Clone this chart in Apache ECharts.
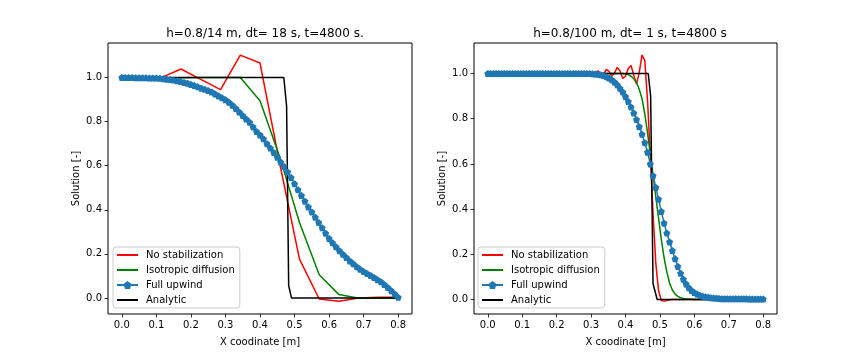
<!DOCTYPE html>
<html>
<head>
<meta charset="utf-8">
<script src="https://cdn.jsdelivr.net/npm/echarts@6/dist/echarts.min.js"></script>
<style>html,body{margin:0;padding:0;background:#fff;}#c{width:864px;height:360px;}</style>
</head>
<body>
<div id="c"></div>
<script>
// ---------- tick labels ----------
const xTicks = [0.0, 0.1, 0.2, 0.3, 0.4, 0.5, 0.6, 0.7, 0.8];
const yTicks = [0.0, 0.2, 0.4, 0.6, 0.8, 1.0];
const seriesNames = ['No stabilization', 'Isotropic diffusion', 'Full upwind', 'Analytic'];
const titleLeft = 'h=0.8/14 m, dt= 18 s, t=4800 s.';
const titleRight = 'h=0.8/100 m, dt= 1 s, t=4800 s';

// ---------- left panel (h = 0.8/14) ----------
const xLeftNodes = [0, 0.0571, 0.1143, 0.1714, 0.2286, 0.2857, 0.3429, 0.4, 0.4571, 0.5143, 0.5714, 0.6286, 0.6857, 0.7429, 0.8];
const leftNoStab = [1.0, 1.0, 1.0, 1.039, 0.992, 0.945, 1.102, 1.066, 0.61, 0.176, -0.005, -0.015, 0.0, 0.003, 0.003];
const leftIso = [0.999, 0.999, 0.999, 0.999, 1.0, 1.0, 1.0, 0.895, 0.64, 0.342, 0.105, 0.015, -0.002, -0.001, 0.0];
const xLeftFine = [0.00,0.01,0.02,0.03,0.04,0.05,0.06,0.07,0.08,0.09,0.10,0.11,0.12,0.13,0.14,0.15,0.16,0.17,0.18,0.19,0.20,0.21,0.22,0.23,0.24,0.25,0.26,0.27,0.28,0.29,0.30,0.31,0.32,0.33,0.34,0.35,0.36,0.37,0.38,0.39,0.40,0.41,0.42,0.43,0.44,0.45,0.46,0.47,0.48,0.49,0.50,0.51,0.52,0.53,0.54,0.55,0.56,0.57,0.58,0.59,0.60,0.61,0.62,0.63,0.64,0.65,0.66,0.67,0.68,0.69,0.70,0.71,0.72,0.73,0.74,0.75,0.76,0.77,0.78,0.79,0.80];
const leftUpwind = [1.000,1.000,1.000,1.000,0.999,0.999,0.999,0.999,0.998,0.998,0.998,0.997,0.995,0.993,0.991,0.989,0.986,0.982,0.978,0.974,0.969,0.964,0.958,0.952,0.947,0.941,0.935,0.926,0.917,0.908,0.899,0.888,0.875,0.860,0.844,0.828,0.812,0.797,0.776,0.755,0.740,0.722,0.700,0.680,0.660,0.638,0.617,0.596,0.572,0.546,0.518,0.491,0.465,0.439,0.413,0.390,0.366,0.342,0.318,0.293,0.270,0.250,0.232,0.214,0.198,0.183,0.168,0.155,0.142,0.130,0.120,0.111,0.102,0.093,0.083,0.073,0.061,0.047,0.033,0.018,0.003];
const xLeftExact = [0, 0.469, 0.477, 0.483, 0.491, 0.8];
const leftExact = [1.0, 1.0, 0.87, 0.056, 0.0, 0.0];

// ---------- right panel (h = 0.8/100) ----------
const xRightNodes = [0.000,0.008,0.016,0.024,0.032,0.040,0.048,0.056,0.064,0.072,0.080,0.088,0.096,0.104,0.112,0.120,0.128,0.136,0.144,0.152,0.160,0.168,0.176,0.184,0.192,0.200,0.208,0.216,0.224,0.232,0.240,0.248,0.256,0.264,0.272,0.280,0.288,0.296,0.304,0.312,0.320,0.328,0.336,0.344,0.352,0.360,0.368,0.376,0.384,0.392,0.400,0.408,0.416,0.424,0.432,0.440,0.448,0.456,0.464,0.472,0.480,0.488,0.496,0.504,0.512,0.520,0.528,0.536,0.544,0.552,0.560,0.568,0.576,0.584,0.592,0.600,0.608,0.616,0.624,0.632,0.640,0.648,0.656,0.664,0.672,0.680,0.688,0.696,0.704,0.712,0.720,0.728,0.736,0.744,0.752,0.760,0.768,0.776,0.784,0.792,0.800];
const rightNoStab = [1,1,1,1,1,1,1,1,1,1,1,1,1,1,1,1,1,1,1,1,1,1,1,1,1,1,1,1,1,1,1,1,1,1,1,1,1,1,
  1.0,1.004,1.012,0.999,0.994,1.018,1.010,0.988,1.002,1.027,1.012,0.978,0.988,1.022,1.036,0.992,0.953,1.005,1.082,1.058,0.880,0.640,0.380,0.160,0.040,-0.004,-0.007,-0.004,-0.001,
  0,0,0,0,0,0,0,0,0,0,0,0,0,0,0,0,0,0,0,0,0,0,0,0,0,0,0,0,0,0,0,0,0,0];
const rightIso = [1,1,1,1,1,1,1,1,1,1,1,1,1,1,1,1,1,1,1,1,1,1,1,1,1,1,1,1,1,1,1,1,1,1,1,1,1,1,1,1,1,1,1,1,1,1,1,1,1,1,
  0.998,0.995,0.988,0.977,0.960,0.930,0.888,0.822,0.738,0.642,0.550,0.455,0.360,0.266,0.186,0.121,0.073,0.042,0.024,0.014,0.008,0.005,0.003,0.002,0.001,
  0,0,0,0,0,0,0,0,0,0,0,0,0,0,0,0,0,0,0,0,0,0,0,0,0,0];
const rightUpwind = [1,1,1,1,1,1,1,1,1,1,1,1,1,1,1,1,1,1,1,1,1,1,1,1,1,1,1,1,1,1,1,1,1,1,1,1,1,1,
  0.999,0.998,0.997,0.995,0.991,0.986,0.980,0.972,0.962,0.950,0.935,0.918,0.898,0.876,0.852,0.825,0.796,0.765,0.731,0.694,0.652,0.600,0.548,0.496,0.444,0.390,0.338,0.294,0.255,0.217,0.180,0.146,0.116,0.090,0.069,0.052,0.040,0.031,0.024,0.019,0.015,0.012,0.010,0.008,0.007,0.006,0.005,0.004,0.004,
  0.003,0.003,0.003,0.003,0.003,0.003,0.003,0.003,0.002,0.002,0.002,0.002,0.002,0.002];
const xRightExact = [0, 0.466, 0.473, 0.480, 0.492, 0.8];
const rightExact = [1.0, 1.0, 0.90, 0.07, 0.0, 0.0];

// ---------- build ----------
const pair = (xs, ys) => xs.map((x, i) => [x, ys[i]]);
const FONT = 'DejaVu Sans';
const pentagon = 'path://M0,-1 L0.951,-0.309 L0.588,0.809 L-0.588,0.809 L-0.951,-0.309 Z';
const C = {red: '#ff0000', green: '#008000', blue: '#1f77b4', black: '#000000'};

function xAxisFor(gi) {
  return {
    type: 'value', gridIndex: gi, min: -0.04, max: 0.84,
    name: 'X coodinate [m]', nameLocation: 'middle', nameGap: 23,
    nameTextStyle: {fontFamily: FONT, fontSize: 10, color: '#000'},
    axisLine: {show: false, onZero: false},
    axisTick: {show: true, length: 3.5, lineStyle: {color: '#000', width: 0.8}, customValues: xTicks},
    axisLabel: {fontFamily: FONT, fontSize: 10, color: '#000', margin: 6, customValues: xTicks,
      formatter: v => v.toFixed(1)},
    splitLine: {show: false}
  };
}
function yAxisFor(gi, mn, mx) {
  return {
    type: 'value', gridIndex: gi, min: mn, max: mx,
    name: 'Solution [-]', nameLocation: 'middle', nameGap: 27, nameRotate: 90,
    nameTextStyle: {fontFamily: FONT, fontSize: 10, color: '#000'},
    axisLine: {show: false, onZero: false},
    axisTick: {show: true, length: 3.5, lineStyle: {color: '#000', width: 0.8}, customValues: yTicks},
    axisLabel: {fontFamily: FONT, fontSize: 10, color: '#000', margin: 6, customValues: yTicks,
      formatter: v => v.toFixed(1)},
    splitLine: {show: false}
  };
}
function lineSeries(name, gi, data, color, withMarker) {
  return {
    name: name, type: 'line', xAxisIndex: gi, yAxisIndex: gi, data: data,
    symbol: withMarker ? pentagon : 'circle', symbolSize: 7, showSymbol: !!withMarker,
    itemStyle: {color: color, borderWidth: 0, opacity: withMarker ? 1 : 0},
    lineStyle: {color: color, width: 1.5},
    emphasis: {disabled: true}, silent: true, clip: false
  };
}
function legendFor(left) {
  return {
    orient: 'vertical', left: left, top: 247, data: seriesNames,
    itemWidth: 21, itemHeight: 10, itemGap: 5,
    padding: [3, 5, 3, 3],
    backgroundColor: 'rgba(255,255,255,0.8)', borderColor: '#cccccc', borderWidth: 1, borderRadius: 3,
    textStyle: {fontFamily: FONT, fontSize: 10, color: '#000', lineHeight: 10, padding: [0, 0, 0, 3]},
    selectedMode: false
  };
}

const chart = echarts.init(document.getElementById('c'), null, {renderer: 'canvas'});
chart.setOption({
  animation: false,
  backgroundColor: '#ffffff',
  title: [
    {text: titleLeft, left: 260, top: 23, textAlign: 'center',
      textStyle: {fontFamily: FONT, fontSize: 12, fontWeight: 'normal', color: '#000'}},
    {text: titleRight, left: 625, top: 23, textAlign: 'center',
      textStyle: {fontFamily: FONT, fontSize: 12, fontWeight: 'normal', color: '#000'}}
  ],
  grid: [
    {left: 108, top: 43, width: 304, height: 271, show: true, borderColor: '#000', borderWidth: 1, backgroundColor: 'transparent'},
    {left: 474, top: 43, width: 303, height: 271, show: true, borderColor: '#000', borderWidth: 1, backgroundColor: 'transparent'}
  ],
  xAxis: [xAxisFor(0), xAxisFor(1)],
  yAxis: [yAxisFor(0, -0.073, 1.157), yAxisFor(1, -0.064, 1.135)],
  legend: [legendFor(113), legendFor(478)],
  series: [
    lineSeries(seriesNames[0], 0, pair(xLeftNodes, leftNoStab), C.red, false),
    lineSeries(seriesNames[1], 0, pair(xLeftNodes, leftIso), C.green, false),
    lineSeries(seriesNames[2], 0, pair(xLeftFine, leftUpwind), C.blue, true),
    lineSeries(seriesNames[3], 0, pair(xLeftExact, leftExact), C.black, false),
    lineSeries(seriesNames[0], 1, pair(xRightNodes, rightNoStab), C.red, false),
    lineSeries(seriesNames[1], 1, pair(xRightNodes, rightIso), C.green, false),
    lineSeries(seriesNames[2], 1, pair(xRightNodes, rightUpwind), C.blue, true),
    lineSeries(seriesNames[3], 1, pair(xRightExact, rightExact), C.black, false)
  ]
});
</script>
</body>
</html>
